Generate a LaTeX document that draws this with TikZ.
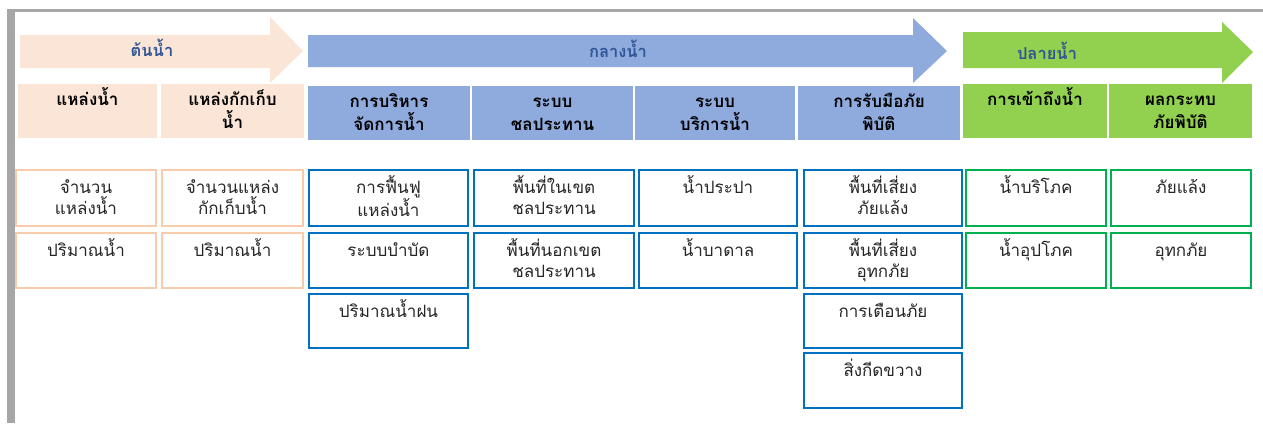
\documentclass[tikz,border=0pt]{standalone}
\usepackage{fontspec}
\setmainfont[Script=Thai]{Loma}
\definecolor{peachfill}{HTML}{FBE5D6}
\definecolor{peachline}{HTML}{F8CBAD}
\definecolor{bluefill}{HTML}{8FAADC}
\definecolor{blueline}{HTML}{0070C0}
\definecolor{greenfill}{HTML}{92D050}
\definecolor{greenline}{HTML}{00B050}
\definecolor{arrtext}{HTML}{2F5597}
\definecolor{frame}{HTML}{A6A6A6}
\newcommand\bx[9]{%
  \node[#2, anchor=north west, minimum width={#5-#3}, minimum height={#6-#4}] (#1) at (#3,#4) {};
  \node[#7, anchor=north] (#1-t) at ([yshift=-#8pt]#1.north) {\rule{0pt}{18pt}#9};
}
\begin{document}
\begin{tikzpicture}[x=1pt,y=-1pt,
  hP/.style={fill=peachfill, draw=none, inner sep=0pt, outer sep=0pt},
  hB/.style={fill=bluefill, draw=none, inner sep=0pt, outer sep=0pt},
  hG/.style={fill=greenfill, draw=none, inner sep=0pt, outer sep=0pt},
  cP/.style={draw=peachline, line width=2pt, fill=white, inner sep=0pt, outer sep=0pt},
  cB/.style={draw=blueline, line width=2.6pt, fill=white, inner sep=0pt, outer sep=0pt},
  cG/.style={draw=greenline, line width=2.6pt, fill=white, inner sep=0pt, outer sep=0pt},
  htxt/.style={font=\bfseries\fontsize{17}{23}\selectfont, align=center, inner sep=0pt, text=black},
  ctxt/.style={font=\fontsize{17}{21}\selectfont, align=center, inner sep=0pt, text=black!85},
  atxt/.style={font=\bfseries\fontsize{16.5}{18}\selectfont, inner sep=0pt, text=arrtext, anchor=base}]
\useasboundingbox (0,0) rectangle (1263,423);
% frame
\fill[frame] (7,9) rectangle (1263,12);
\fill[frame] (7,9) rectangle (15,423);
% arrows
\fill[peachfill] (20,35) -- (270,35) -- (270,17) -- (303,51) -- (270,83) -- (270,68) -- (20,68) -- cycle;
\fill[bluefill] (308,35) -- (913,35) -- (913,18) -- (947,51) -- (913,83) -- (913,67) -- (308,67) -- cycle;
\fill[greenfill] (963,32) -- (1222,32) -- (1222,22) -- (1253,52) -- (1222,83) -- (1222,68) -- (963,68) -- cycle;
\node[atxt] (a1) at (152,56) {ต้นน้ำ};
\node[atxt] (a2) at (618,57) {กลางน้ำ};
\node[atxt] (a3) at (1047,59) {ปลายน้ำ};
% headers
\bx{h1}{hP}{18}{84}{157}{138}{htxt}{3}{แหล่งน้ำ}
\bx{h2}{hP}{161}{84}{304}{138}{htxt}{3}{แหล่งกักเก็บ\\น้ำ}
\bx{h3}{hB}{308}{86}{470}{140}{htxt}{3}{การบริหาร\\จัดการน้ำ}
\bx{h4}{hB}{472}{86}{633}{140}{htxt}{3}{ระบบ\\ชลประทาน}
\bx{h5}{hB}{635}{86}{795}{140}{htxt}{3}{ระบบ\\บริการน้ำ}
\bx{h6}{hB}{798}{86}{960}{140}{htxt}{3}{การรับมือภัย\\พิบัติ}
\bx{h7}{hG}{963}{84}{1107}{138}{htxt}{3}{การเข้าถึงน้ำ}
\bx{h8}{hG}{1109}{84}{1252}{138}{htxt}{3}{ผลกระทบ\\ภัยพิบัติ}
% column 1
\bx{c1a}{cP}{16}{170}{156}{226}{ctxt}{5}{จำนวน\\แหล่งน้ำ}
\bx{c1b}{cP}{16}{233}{156}{288}{ctxt}{5}{ปริมาณน้ำ}
% column 2
\bx{c2a}{cP}{162}{170}{303}{226}{ctxt}{5}{จำนวนแหล่ง\\กักเก็บน้ำ}
\bx{c2b}{cP}{162}{233}{303}{288}{ctxt}{5}{ปริมาณน้ำ}
% column 3
\bx{c3a}{cB}{309}{170}{468}{226}{ctxt}{5}{การฟื้นฟู\\แหล่งน้ำ}
\bx{c3b}{cB}{309}{233}{468}{288}{ctxt}{5}{ระบบบำบัด}
\bx{c3c}{cB}{309}{294}{468}{348}{ctxt}{5}{ปริมาณน้ำฝน}
% column 4
\bx{c4a}{cB}{474}{170}{634}{226}{ctxt}{5}{พื้นที่ในเขต\\ชลประทาน}
\bx{c4b}{cB}{474}{233}{634}{288}{ctxt}{5}{พื้นที่นอกเขต\\ชลประทาน}
% column 5
\bx{c5a}{cB}{639}{170}{797}{226}{ctxt}{5}{น้ำประปา}
\bx{c5b}{cB}{639}{233}{797}{288}{ctxt}{5}{น้ำบาดาล}
% column 6
\bx{c6a}{cB}{804}{170}{962}{226}{ctxt}{5}{พื้นที่เสี่ยง\\ภัยแล้ง}
\bx{c6b}{cB}{804}{233}{962}{288}{ctxt}{5}{พื้นที่เสี่ยง\\อุทกภัย}
\bx{c6c}{cB}{804}{294}{962}{348}{ctxt}{5}{การเตือนภัย}
\bx{c6d}{cB}{804}{353}{962}{408}{ctxt}{5}{สิ่งกีดขวาง}
% column 7
\bx{c7a}{cG}{966}{170}{1106}{226}{ctxt}{5}{น้ำบริโภค}
\bx{c7b}{cG}{966}{233}{1106}{288}{ctxt}{5}{น้ำอุปโภค}
% column 8
\bx{c8a}{cG}{1111}{170}{1251}{226}{ctxt}{5}{ภัยแล้ง}
\bx{c8b}{cG}{1111}{233}{1251}{288}{ctxt}{5}{อุทกภัย}
\end{tikzpicture}
\end{document}
